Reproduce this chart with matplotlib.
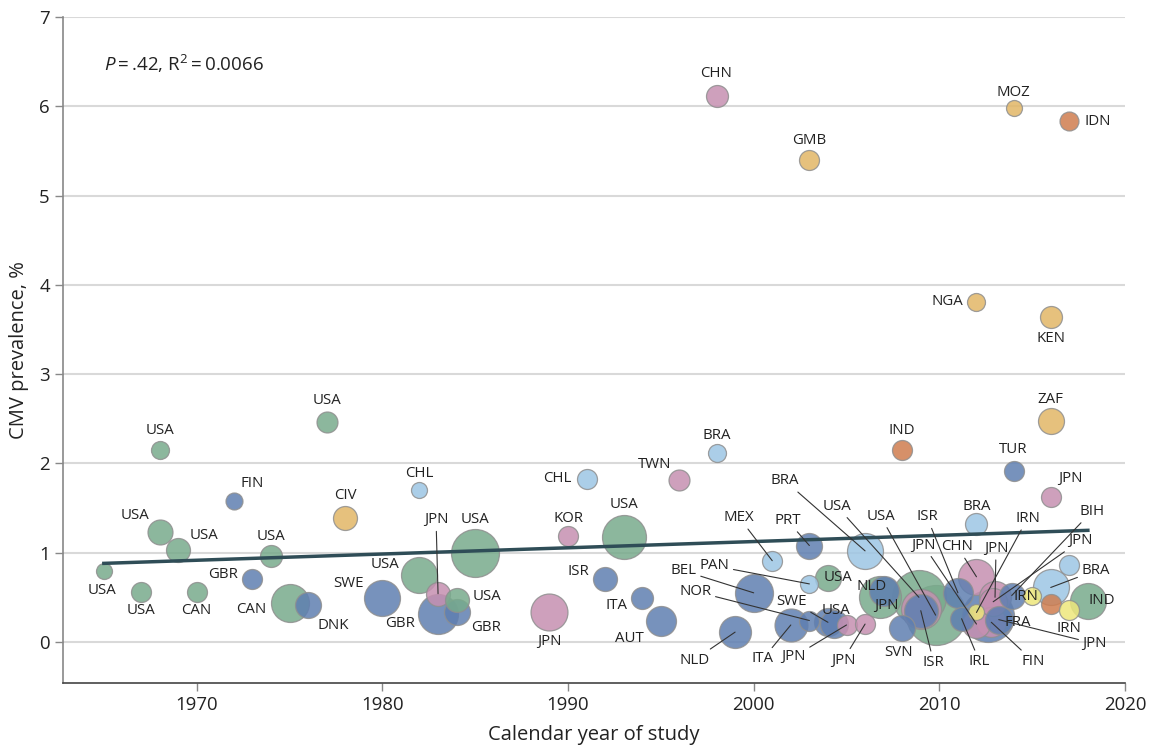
import matplotlib
matplotlib.use("Agg")
import matplotlib.pyplot as plt

plt.rcParams['font.family'] = ['Open Sans', 'DejaVu Sans']
plt.rcParams['mathtext.fontset'] = 'custom'
plt.rcParams['mathtext.rm'] = 'Open Sans'
plt.rcParams['mathtext.it'] = 'Open Sans:italic'

# study year, CMV prevalence (%), relative study size, region group, country
years = [1968, 1977, 1972, 1978, 1982, 1968, 1969, 1974, 1965, 1967,
         1970, 1973, 1975, 1976, 1980, 1982, 1983, 1983, 1984, 1984,
         1985, 1998, 1991, 1996, 1990, 1993, 1992, 1989, 1994, 1995,
         1999, 2000, 2001, 2003, 2003, 2004, 2002, 2003, 2004, 2004.3,
         2005, 2006, 2006, 2007, 2006.8, 2008.9, 2009.8, 2009, 2009, 2008,
         2011, 2011.2, 2012, 2012.6, 2012, 2012, 2013, 2013.9, 2012.9, 2012.8,
         2013.2, 2015, 2016, 2017, 2016, 2017, 2018, 1998, 2003, 2014,
         2017, 2012, 2016, 2016, 2008, 2014, 2016, 2012]
cmv = [2.15, 2.46, 1.58, 1.39, 1.70, 1.23, 1.03, 0.96, 0.79, 0.56,
       0.56, 0.70, 0.44, 0.41, 0.49, 0.75, 0.54, 0.31, 0.47, 0.34,
       1.00, 2.12, 1.83, 1.81, 1.19, 1.18, 0.71, 0.33, 0.49, 0.24,
       0.11, 0.55, 0.91, 1.08, 0.65, 0.72, 0.19, 0.24, 0.22, 0.20,
       0.19, 0.20, 1.02, 0.57, 0.50, 0.50, 0.30, 0.37, 0.35, 0.16,
       0.55, 0.26, 0.73, 0.29, 0.20, 0.33, 0.50, 0.52, 0.45, 0.22,
       0.25, 0.51, 0.61, 0.86, 0.43, 0.36, 0.46, 6.12, 5.40, 5.98,
       5.83, 3.81, 3.64, 2.47, 2.15, 1.92, 1.62, 1.32]
rel_size = [81, 110, 72, 144, 64, 156, 144, 121, 64, 100,
            100, 100, 361, 169, 324, 324, 144, 400, 144, 169,
            576, 81, 100, 110, 100, 484, 144, 342, 121, 225,
            256, 361, 100, 169, 81, 169, 272, 100, 196, 196,
            100, 100, 324, 225, 441, 729, 900, 400, 289, 169,
            225, 144, 324, 676, 196, 64, 256, 169, 196, 225,
            196, 81, 324, 100, 100, 100, 324, 121, 100, 64,
            90, 81, 121, 169, 100, 100, 100, 121]
groups = ['G', 'G', 'B', 'O', 'L', 'G', 'G', 'G', 'G', 'G',
          'G', 'B', 'G', 'B', 'B', 'G', 'P', 'B', 'G', 'B',
          'G', 'L', 'L', 'P', 'P', 'G', 'B', 'P', 'B', 'B',
          'B', 'B', 'L', 'B', 'L', 'G', 'B', 'B', 'B', 'B',
          'P', 'P', 'L', 'B', 'G', 'G', 'G', 'P', 'B', 'B',
          'B', 'B', 'P', 'B', 'P', 'Y', 'P', 'B', 'P', 'P',
          'B', 'Y', 'L', 'L', 'R', 'Y', 'G', 'P', 'O', 'O',
          'R', 'O', 'O', 'O', 'R', 'B', 'P', 'L']
countries = ['USA', 'USA', 'FIN', 'CIV', 'CHL', 'USA', 'USA', 'USA', 'USA', 'USA',
             'CAN', 'GBR', 'CAN', 'DNK', 'SWE', 'USA', 'JPN', 'GBR', 'USA', 'GBR',
             'USA', 'BRA', 'CHL', 'TWN', 'KOR', 'USA', 'ISR', 'JPN', 'ITA', 'AUT',
             'NLD', 'BEL', 'MEX', 'PRT', 'PAN', 'USA', 'ITA', 'NOR', 'SWE', 'USA',
             'JPN', 'JPN', 'BRA', 'NLD', '', 'USA', 'USA', 'JPN', 'ISR', 'SVN',
             'ISR', 'IRL', 'CHN', 'FRA', 'JPN', 'IRN', 'JPN', 'BIH', 'JPN', 'FIN',
             'JPN', 'IRN', 'BRA', '', '', 'IRN', 'IND', 'CHN', 'GMB', 'MOZ',
             'IDN', 'NGA', 'KEN', 'ZAF', 'IND', 'TUR', 'JPN', 'BRA']

trend_x = [1965, 2018]
trend_y = [0.88, 1.25]

# label placement (pixel offsets from bubble centre) and leader lines
label_offsets = [(0, 19), (0, 22), (18, 17), (0, 22), (0, 17), (-25, 17), (26, 14), (0, 20), (-2, -19), (0, -19),
                 (0, -19), (-29, 5), (-38, -7), (25, -20), (-34, 15), (-34, 10), (-2, 74), (-38, -9), (30, 3), (29, -16),
                 (0, 33), (0, 17), (-29, 0), (-25, 16), (0, 17), (0, 32), (-27, 7), (0, -29), (-26, -7), (-31, -18),
                 (-41, -28), (-70, 22), (-33, 43), (-22, 25), (-95, 18), (10, 0), (-28, -34), (-114, 29), (-36, 21), (2, 14),
                 (-53, -32), (-22, -36), (-80, 70), (-12, 5), (0, 0), (-82, 91), (-55, 99), (-34, 3), (13, -52), (-4, -25),
                 (-31, 76), (18, -43), (-19, 30), (30, -6), (-53, 79), (51, 94), (1, 49), (80, 84), (87, 61), (42, -39),
                 (96, -24), (-6, 0), (45, 17), (0, 0), (0, 0), (0, -19), (14, 0), (0, 22), (0, 19), (0, 16),
                 (28, 0), (-29, 0), (0, -22), (0, 22), (0, 19), (0, 21), (20, 19), (0, 18)]
leader = [0, 0, 0, 0, 0, 0, 0, 0, 0, 0,
          0, 0, 0, 0, 0, 0, 1, 0, 0, 0,
          0, 0, 0, 0, 0, 0, 0, 0, 0, 0,
          1, 1, 1, 1, 1, 0, 1, 1, 1, 0,
          1, 1, 1, 0, 0, 1, 1, 0, 1, 0,
          1, 1, 1, 0, 1, 1, 1, 1, 1, 1,
          1, 0, 1, 0, 0, 0, 0, 0, 0, 0,
          0, 0, 0, 0, 0, 0, 0, 0]

colors = {'G': '#78ab8c', 'B': '#5f7fb1', 'L': '#9dc6e4', 'P': '#c690b1',
          'O': '#e2b666', 'R': '#cf7d4f', 'Y': '#eee77c'}

fig = plt.figure(figsize=(11.53, 7.49), dpi=100)
ax = fig.add_axes([63 / 1153, 66 / 749, 1062 / 1153, 666 / 749])

ax.set_xlim(1962.8, 2020)
ax.set_ylim(-0.46, 7)

for y in range(0, 8):
    ax.axhline(y, color='#d9d9d9', lw=1.5, zorder=0)

order = sorted(range(len(years)), key=lambda i: -rel_size[i])
for i in order:
    ax.scatter(years[i], cmv[i], s=2.07 * rel_size[i], color=colors[groups[i]],
               alpha=0.85, edgecolor='#8f8f8f', linewidth=0.9, zorder=2)

ax.plot(trend_x, trend_y, color='#2f4d57', lw=2.5, zorder=3)

for i in range(len(years)):
    if not countries[i]:
        continue
    ap = None
    if leader[i]:
        ap = dict(arrowstyle='-', color='#333333', lw=0.8, shrinkA=1, shrinkB=0)
    ax.annotate(countries[i], xy=(years[i], cmv[i]), xytext=label_offsets[i],
                textcoords='offset pixels', ha='center', va='center',
                fontsize=10.8, color='#222222', arrowprops=ap, zorder=5)

ax.text(0.0386, 0.929, '$\\it{P}$\u2009=\u2009.42, R$^2$\u2009=\u20090.0066', transform=ax.transAxes,
        fontsize=13.5, color='#222222', ha='left', va='center')

ax.set_xticks([1970, 1980, 1990, 2000, 2010, 2020])
ax.set_yticks(range(0, 8))
ax.tick_params(axis='both', labelsize=13.4, colors='#222222', length=6, width=1)
ax.tick_params(axis='y', color='#888888')
ax.tick_params(axis='x', color='#888888')
ax.set_xlabel('Calendar year of study', fontsize=14.5, color='#222222', labelpad=8)
ax.set_ylabel('CMV prevalence, %', fontsize=14.5, color='#222222', labelpad=7)

ax.spines['top'].set_visible(False)
ax.spines['right'].set_visible(False)
ax.spines['left'].set_color('#888888')
ax.spines['bottom'].set_color('#444444')
ax.spines['left'].set_linewidth(1.2)
ax.spines['bottom'].set_linewidth(1.2)

fig.savefig('out.png', dpi=100)
